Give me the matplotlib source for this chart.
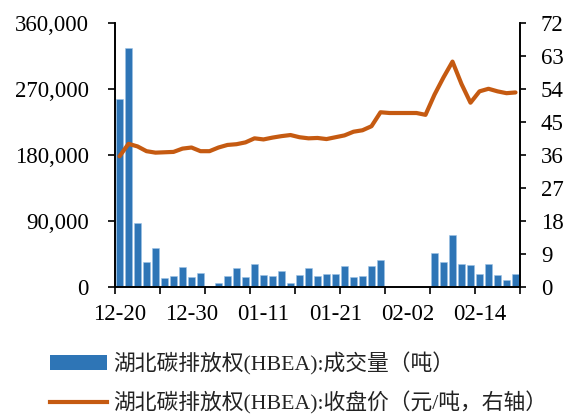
import numpy as np
import matplotlib.pyplot as plt
from matplotlib.patches import Patch
from matplotlib.lines import Line2D

plt.rcParams['font.family'] = ['Liberation Serif', 'Noto Sans CJK SC']

dates = ["12-20", "12-21", "12-22", "12-23", "12-24", "12-27", "12-28", "12-29",
         "12-30", "12-31", "01-03", "01-04", "01-05", "01-06", "01-07", "01-10",
         "01-11", "01-12", "01-13", "01-14", "01-17", "01-18", "01-19", "01-20",
         "01-21", "01-24", "01-25", "01-26", "01-27", "01-28", "01-31", "02-01",
         "02-02", "02-03", "02-04", "02-07", "02-08", "02-09", "02-10", "02-11",
         "02-14", "02-15", "02-16", "02-17", "02-18"]

volume = [256000, 325000, 87400, 34400, 52500, 12700, 14900, 26700,
          13100, 18500, 0, 5400, 14900, 25800, 14000, 30800,
          15800, 14500, 21300, 5400, 16300, 25800, 14900, 17700,
          17700, 28500, 14000, 14500, 29000, 36700, 0, 0,
          0, 0, 0, 46200, 34000, 70600, 31200, 29400,
          17200, 31200, 15800, 9900, 17200]

price = [35.6, 39.0, 38.3, 37.0, 36.6, 36.7, 36.8, 37.7,
         38.0, 37.0, 37.0, 38.0, 38.7, 38.9, 39.4, 40.5,
         40.2, 40.7, 41.1, 41.4, 40.8, 40.5, 40.6, 40.3,
         40.8, 41.3, 42.3, 42.7, 43.8, 47.6, 47.4, 47.4,
         47.4, 47.4, 46.9, 52.4, 57.1, 61.4, 55.3, 50.2,
         53.3, 54.0, 53.3, 52.8, 53.0]

vol_label = "湖北碳排放权(HBEA):成交量（吨）"
price_label = "湖北碳排放权(HBEA):收盘价（元/吨，右轴）"

blue = "#2E75B6"
orange = "#C55A11"

x = np.arange(len(dates))

fig = plt.figure(figsize=(5.65, 4.15), dpi=100)
ax = fig.add_axes([115 / 565, 1 - 287 / 415, 405 / 565, (287 - 22.7) / 415])
ax2 = ax.twinx()

ax.bar(x, volume, width=0.82, color=blue, edgecolor="#9DC3E6", linewidth=0.4)
ax2.plot(x, price, color=orange, lw=3, solid_joinstyle="round", solid_capstyle="round")

ax.set_xlim(-0.5, len(dates) - 0.5)
ax.set_ylim(0, 360000)
ax2.set_ylim(0, 72)

ax.set_yticks(np.arange(0, 360001, 90000))
ax.set_yticklabels([f"{v:,}" for v in range(0, 360001, 90000)])
ax2.set_yticks(np.arange(0, 73, 9))

ax.set_xticks(x[::8])
ax.set_xticklabels(dates[::8])
ax.set_xticks(np.arange(-0.5, len(dates), 5), minor=True)

for a in (ax, ax2):
    a.spines["top"].set_visible(False)
    for s in ("left", "right", "bottom"):
        a.spines[s].set_linewidth(1.2)

ax.tick_params(axis="x", which="major", length=0, pad=12, labelsize=16.5)
ax.tick_params(axis="x", which="minor", length=5, width=1.2, direction="out")
ax.tick_params(axis="y", length=5, width=1.2, pad=14, labelsize=16.5)
ax2.tick_params(axis="y", length=4, width=1.2, pad=11, labelsize=16.5)

handles = [Patch(facecolor=blue), Line2D([], [], color=orange, lw=3)]
fig.legend(handles, [vol_label, price_label], loc="upper left",
           bbox_to_anchor=(50 / 565, 1 - 352 / 415), frameon=False,
           fontsize=15.7, labelcolor="#222222", handlelength=2.6, handleheight=0.7,
           handletextpad=0.3, labelspacing=0.75, borderpad=0, borderaxespad=0)

fig.savefig("out.png", dpi=100)
